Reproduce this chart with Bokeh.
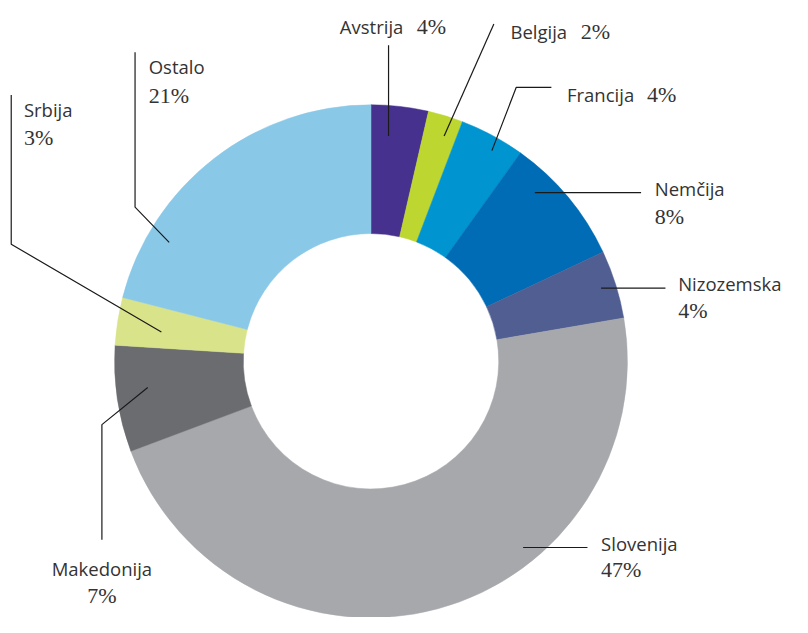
import math
from bokeh.plotting import figure
from bokeh.models import Range1d, ColumnDataSource
from bokeh.core.properties import value
from bokeh.embed import file_html
from bokeh.resources import INLINE

# ---- data ----
names = ["Avstrija", "Belgija", "Francija", "Nemčija", "Nizozemska",
         "Slovenija", "Makedonija", "Srbija", "Ostalo"]
shares = [3.6, 2.2, 4.1, 8.1, 4.3, 47.0, 6.7, 3.0, 21.0]
pct_labels = ["4%", "2%", "4%", "8%", "4%", "47%", "7%", "3%", "21%"]
colors = ["#46318f", "#bed630", "#0095d0", "#006cb5", "#515e91",
          "#a7a8ac", "#6b6c70", "#d9e38a", "#8ac8e8"]

# ---- layout (reference pixel coordinates, y downward) ----
W, H = 792, 617
S = 0.975                      # uniform scale reference -> figure pixels
CX, CY = 380, 370
R_OUT, R_IN = 263, 131

name_xy = [(348, 27), (523, 32), (581, 96), (671, 193), (695, 290),
           (616, 557), (104, 583), (24, 112), (152, 68)]
pct_xy = [(427, 27), (595, 32), (663, 96), (671, 222), (695, 318),
          (616, 584), (104, 610), (24, 140), (152, 97)]
align = ["left"] * 6 + ["center"] + ["left"] * 2
leaders = [
    [(398, 46), (398, 139)],
    [(506, 24), (455, 139)],
    [(565, 89), (529, 89), (504, 154)],
    [(657, 197), (548, 197)],
    [(682, 295), (616, 295)],
    [(602, 561), (536, 561)],
    [(104, 553), (104, 435), (151, 397)],
    [(11, 97), (11, 250), (165, 340)],
    [(138, 53), (138, 212), (173, 248)],
]

def Y(y):
    return 633 - y

p = figure(width=W, height=H, output_backend="svg", toolbar_location=None,
           x_range=Range1d(0, W / S), y_range=Range1d(633 - H / S, 633),
           min_border=0, outline_line_color=None)
p.axis.visible = False
p.grid.visible = False
p.background_fill_color = "white"
p.border_fill_color = "white"

total = sum(shares)
starts, ends = [], []
acc = 0.0
for s in shares:
    starts.append(math.pi / 2 - 2 * math.pi * acc / total)
    acc += s
    ends.append(math.pi / 2 - 2 * math.pi * acc / total)

src = ColumnDataSource(dict(x=[CX] * len(shares), y=[Y(CY)] * len(shares),
                            start=starts, end=ends, color=colors, name=names))
p.annular_wedge(x="x", y="y", inner_radius=R_IN, outer_radius=R_OUT,
                start_angle="start", end_angle="end", direction="clock",
                fill_color="color", line_color="color", line_width=0.5,
                source=src)

p.multi_line(xs=[[pt[0] for pt in l] for l in leaders],
             ys=[[Y(pt[1]) for pt in l] for l in leaders],
             line_color="#1a1a1a", line_width=1.2)

for i, n in enumerate(names):
    p.text(x=[name_xy[i][0]], y=[Y(name_xy[i][1])], text=[n],
           text_font=value("Open Sans"), text_font_size="18.5px",
           text_color="#333333", text_align=align[i],
           text_baseline="alphabetic")
    p.text(x=[pct_xy[i][0]], y=[Y(pct_xy[i][1])], text=[pct_labels[i]],
           text_font=value("Liberation Serif"), text_font_size="22px",
           text_color="#333333", text_align=align[i],
           text_baseline="alphabetic")

open("out.html", "w").write(file_html(p, INLINE))
